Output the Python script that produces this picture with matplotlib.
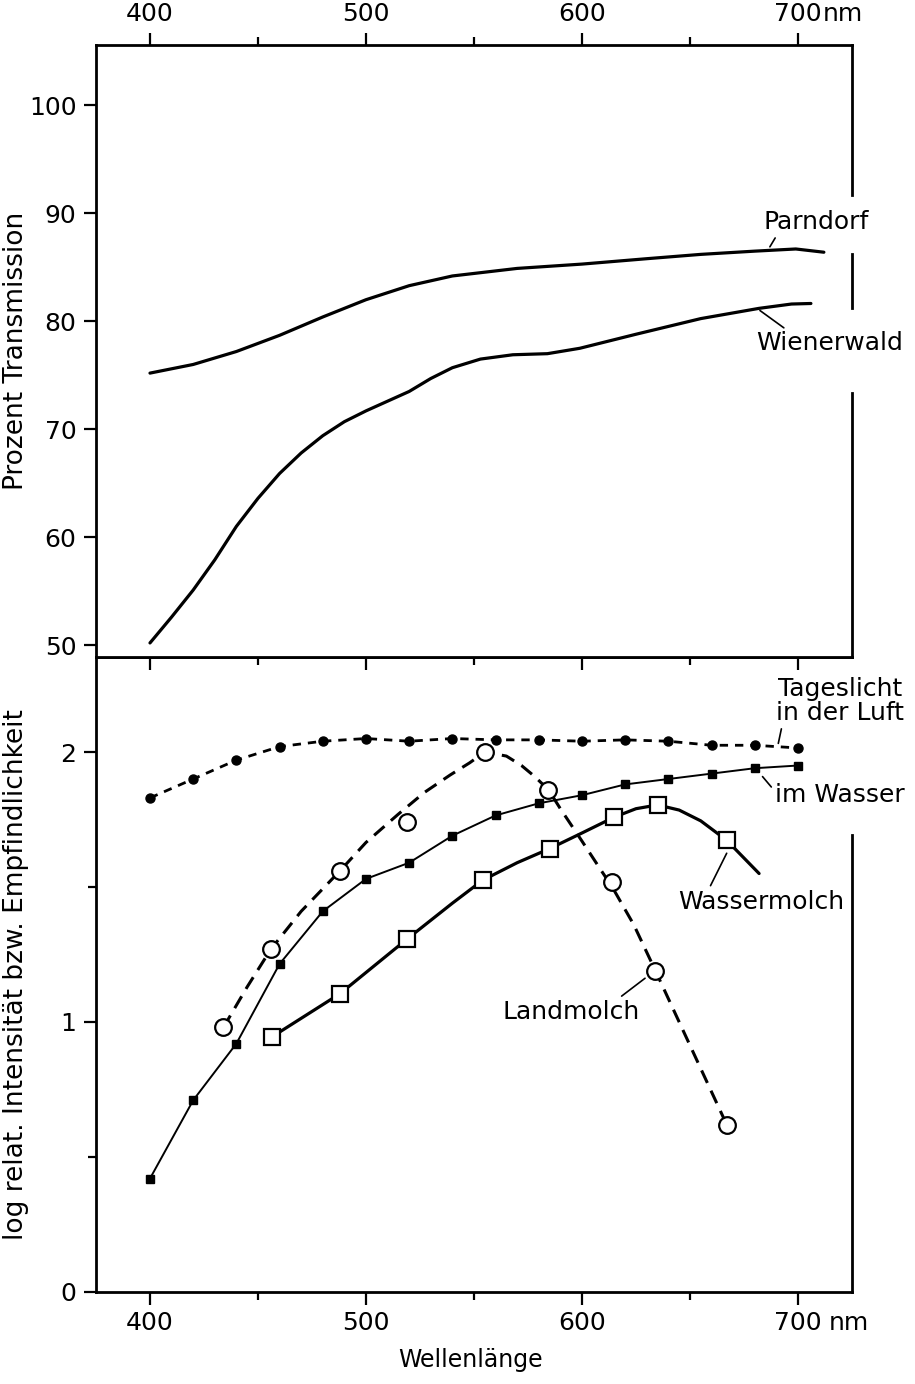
import matplotlib.pyplot as plt

# --- top panel: transmission of the two habitats (percent) ---
wl_parndorf = [400, 420, 440, 460, 480, 500, 520, 540, 570, 600, 630, 655, 680, 699, 712]
parndorf = [75.2, 76.0, 77.2, 78.7, 80.4, 82.0, 83.3, 84.2, 84.9, 85.3, 85.8, 86.2, 86.5, 86.7, 86.4]

wl_wienerwald = [400, 410, 420, 430, 440, 450, 460, 470, 480, 490, 500, 510, 520, 530, 540, 553, 568, 584, 599, 625, 655, 682, 697, 706]
wienerwald = [50.2, 52.6, 55.1, 57.9, 61.0, 63.6, 65.9, 67.8, 69.4, 70.7, 71.7, 72.6, 73.5, 74.7, 75.7, 76.5, 76.9, 77.0, 77.5, 78.8, 80.25, 81.2, 81.6, 81.65]

# --- bottom panel: log relative intensity / sensitivity ---
wl_light = [400, 420, 440, 460, 480, 500, 520, 540, 560, 580, 600, 620, 640, 660, 680, 700]
daylight_air = [1.83, 1.90, 1.97, 2.02, 2.04, 2.05, 2.04, 2.05, 2.045, 2.045, 2.04, 2.045, 2.04, 2.025, 2.025, 2.015]
daylight_water = [0.42, 0.71, 0.92, 1.215, 1.41, 1.53, 1.59, 1.69, 1.765, 1.81, 1.84, 1.88, 1.90, 1.92, 1.94, 1.95]

wl_land_pts = [434, 456, 488, 519, 555, 584.5, 614, 634, 667]
land_pts = [0.98, 1.27, 1.56, 1.74, 2.0, 1.86, 1.52, 1.19, 0.62]
wl_land_curve = [434, 445, 456, 470, 488, 500, 515, 527, 539, 548, 555, 565, 572, 578, 584.5, 590, 600, 609, 614, 624, 634, 667]
land_curve = [0.98, 1.13, 1.27, 1.41, 1.56, 1.665, 1.77, 1.85, 1.915, 1.96, 2.0, 1.985, 1.95, 1.91, 1.86, 1.79, 1.67, 1.56, 1.50, 1.36, 1.19, 0.62]

wl_water_pts = [456.5, 488, 519, 554, 585, 615, 635, 667]
water_pts = [0.945, 1.105, 1.307, 1.525, 1.642, 1.759, 1.804, 1.673]
wl_water_curve = [456.5, 488, 519, 540, 554, 570, 585, 600, 615, 625, 635, 645, 655, 667, 682]
water_curve = [0.945, 1.105, 1.307, 1.44, 1.525, 1.59, 1.642, 1.70, 1.759, 1.79, 1.804, 1.785, 1.745, 1.673, 1.55]

xticks = [400, 500, 600, 700]
xminor = [450, 550, 650]

plt.rcParams['font.family'] = ['DejaVu Sans']
fs = 18

fig = plt.figure(figsize=(9.15, 13.84), dpi=100)
ax1 = fig.add_axes([0.1049, 0.5253, 0.8262, 0.4422])
ax2 = fig.add_axes([0.1049, 0.0665, 0.8262, 0.4588])
ax1.set_zorder(2)

for ax in (ax1, ax2):
    ax.set_xlim(375, 725)
    ax.spines['right'].set_visible(False)
    for s in ('left', 'top', 'bottom'):
        ax.spines[s].set_linewidth(2.0)
    ax.set_xticks(xticks)
    ax.set_xticks(xminor, minor=True)
    ax.tick_params(which='major', length=9, width=1.6, labelsize=fs, pad=5)
    ax.tick_params(which='minor', length=6, width=1.6)

# top panel
lw = 2.3
ax1.plot(wl_parndorf, parndorf, color='black', lw=lw, solid_capstyle='round')
ax1.plot(wl_wienerwald, wienerwald, color='black', lw=lw, solid_capstyle='round')
ax1.set_ylim(48.9, 105.6)
ax1.set_yticks([50, 60, 70, 80, 90, 100])
ax1.xaxis.set_ticks_position('both')
ax1.tick_params(axis='x', which='both', direction='out', labelbottom=False, labeltop=True)
ax1.set_xticklabels([str(v) for v in xticks])
ax1.annotate('nm', xy=(700, 1), xycoords=ax1.get_xaxis_transform(),
             xytext=(18, 14), textcoords='offset points', ha='left', va='bottom', fontsize=fs)
ax1.set_ylabel('Prozent Transmission', fontsize=19)
ax1.yaxis.set_label_coords(-0.088, 0.5)

# broken right frame of the top panel
for y0, y1 in [(0.755, 1.0), (0.57, 0.6585), (0.0, 0.431)]:
    ax1.axvline(725, ymin=y0, ymax=y1, color='black', lw=2.0, clip_on=False)

lead = dict(arrowstyle='-', lw=1.2, color='black', shrinkA=1, shrinkB=0)
ax1.annotate('Parndorf', xy=(687, 86.9), xytext=(708.6, 89.2), ha='center', va='center',
             fontsize=fs, arrowprops=dict(lead, relpos=(0.13, 0.0)))
ax1.annotate('Wienerwald', xy=(682.4, 81.0), xytext=(714.8, 77.95), ha='center', va='center',
             fontsize=fs, arrowprops=dict(lead, relpos=(0.22, 1.0)))

# bottom panel
ax2.plot(wl_light, daylight_air, color='black', lw=2.0, dashes=(3.0, 2.5),
         marker='o', ms=6.5, mfc='black', mec='black')
ax2.plot(wl_light, daylight_water, color='black', lw=1.4,
         marker='s', ms=5.5, mfc='black', mec='black')
ax2.plot(wl_land_curve, land_curve, color='black', lw=2.2, dashes=(4.5, 2.8))
ax2.plot(wl_land_pts, land_pts, ls='none', marker='o', ms=12, mfc='white', mec='black', mew=1.6)
ax2.plot(wl_water_curve, water_curve, color='black', lw=2.3, solid_capstyle='round')
ax2.plot(wl_water_pts, water_pts, ls='none', marker='s', ms=12, mfc='white', mec='black', mew=1.6)

ax2.set_ylim(0, 2.352)
ax2.set_yticks([0, 1, 2])
ax2.set_yticklabels(['0', '1', '2'])
ax2.set_yticks([0.5, 1.5], minor=True)
ax2.tick_params(axis='x', which='both', top=False, direction='out')
ax2.set_xticklabels([str(v) for v in xticks])
ax2.annotate('nm', xy=(700, 0), xycoords=ax2.get_xaxis_transform(),
             xytext=(22, -14), textcoords='offset points', ha='left', va='top', fontsize=fs)
ax2.set_ylabel('log relat. Intensität bzw. Empfindlichkeit', fontsize=19)
ax2.yaxis.set_label_coords(-0.088, 0.5)
ax2.set_xlabel('Wellenlänge', fontsize=17)
ax2.xaxis.set_label_coords(0.495, -0.088)

# right frame of the bottom panel only below the labels
ax2.axvline(725, ymin=0.0, ymax=0.72, color='black', lw=2.0, clip_on=False)

ax2.annotate('Tageslicht\nin der Luft', xy=(690.9, 2.032), xytext=(719.4, 2.19),
             ha='center', va='center', fontsize=fs, linespacing=1.0,
             arrowprops=dict(lead, relpos=(0.05, 0.0)))
ax2.annotate('im Wasser', xy=(683.6, 1.909), xytext=(719.4, 1.841), ha='center', va='center',
             fontsize=fs, arrowprops=dict(lead, relpos=(0.0, 0.65)))
ax2.annotate('Wassermolch', xy=(667, 1.625), xytext=(683.2, 1.4456), ha='center', va='center',
             fontsize=fs, arrowprops=dict(lead, relpos=(0.18, 1.0)))
ax2.annotate('Landmolch', xy=(629.2, 1.162), xytext=(595.2, 1.038), ha='center', va='center',
             fontsize=fs, arrowprops=dict(lead, relpos=(0.83, 1.0)))

fig.savefig('out.png', dpi=100)
